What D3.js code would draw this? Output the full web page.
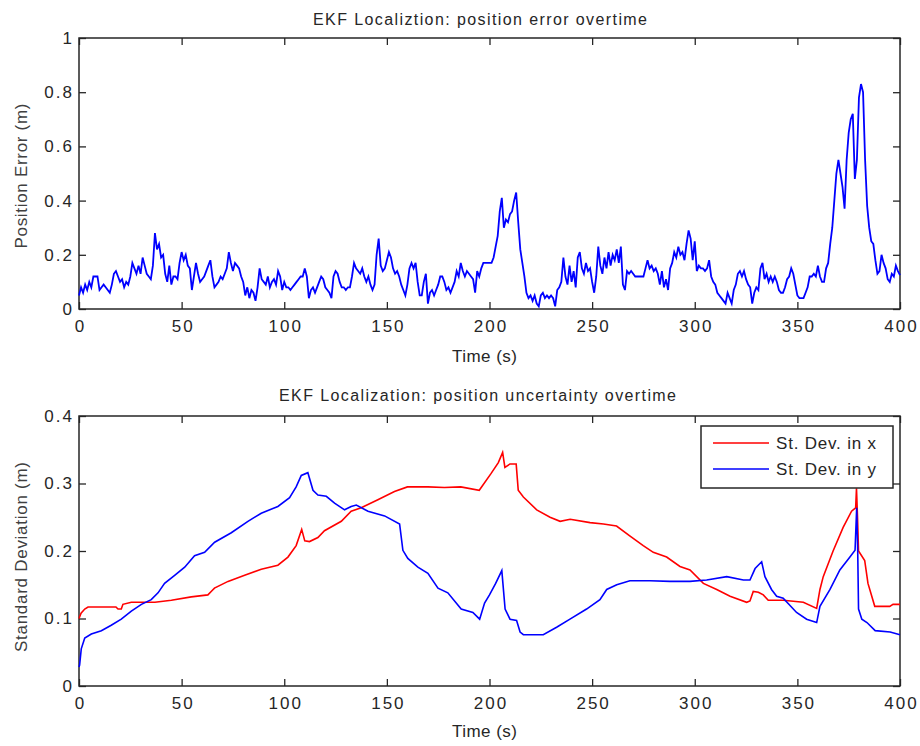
<!DOCTYPE html>
<html>
<head>
<meta charset="utf-8">
<script src="https://cdn.jsdelivr.net/npm/d3@7"></script>
<style>
  html, body { margin: 0; padding: 0; background: #fff; }
  svg { display: block; }
  text { font-family: "Liberation Sans", Arial, Helvetica, sans-serif; }
</style>
</head>
<body>
<svg id="chart" width="920" height="746"></svg>
<script>
// ---------------- DATA ----------------
// Top panel: position error (m), one sample per second, t = 0..400 s
const errValues = [
  0.05, 0.08, 0.06, 0.09, 0.07, 0.10, 0.08, 0.12, 0.12, 0.12,
  0.07, 0.08, 0.09, 0.08, 0.07, 0.06, 0.09, 0.13, 0.14, 0.12,
  0.10, 0.11, 0.08, 0.10, 0.09, 0.12, 0.17, 0.15, 0.13, 0.16,
  0.13, 0.19, 0.16, 0.13, 0.12, 0.11, 0.16, 0.28, 0.22, 0.24,
  0.19, 0.20, 0.13, 0.10, 0.16, 0.09, 0.12, 0.12, 0.11, 0.17,
  0.21, 0.18, 0.20, 0.16, 0.15, 0.07, 0.12, 0.17, 0.13, 0.10,
  0.11, 0.12, 0.14, 0.16, 0.18, 0.12, 0.08, 0.09, 0.10, 0.12,
  0.11, 0.13, 0.15, 0.21, 0.17, 0.14, 0.17, 0.16, 0.15, 0.12,
  0.10, 0.05, 0.08, 0.04, 0.07, 0.06, 0.03, 0.08, 0.15, 0.11,
  0.10, 0.09, 0.12, 0.08, 0.10, 0.11, 0.09, 0.14, 0.12, 0.07,
  0.10, 0.08, 0.08, 0.07, 0.08, 0.09, 0.10, 0.11, 0.12, 0.12,
  0.15, 0.12, 0.04, 0.07, 0.08, 0.06, 0.08, 0.10, 0.12, 0.11,
  0.08, 0.07, 0.06, 0.04, 0.12, 0.14, 0.13, 0.10, 0.08, 0.08,
  0.07, 0.08, 0.08, 0.12, 0.17, 0.15, 0.14, 0.13, 0.15, 0.12,
  0.10, 0.12, 0.09, 0.07, 0.09, 0.20, 0.26, 0.16, 0.14, 0.15,
  0.18, 0.21, 0.19, 0.15, 0.13, 0.14, 0.12, 0.09, 0.07, 0.05,
  0.09, 0.15, 0.17, 0.15, 0.17, 0.10, 0.05, 0.05, 0.10, 0.13,
  0.02, 0.06, 0.07, 0.05, 0.07, 0.09, 0.12, 0.12, 0.10, 0.07,
  0.08, 0.06, 0.08, 0.10, 0.14, 0.12, 0.17, 0.14, 0.12, 0.14,
  0.13, 0.12, 0.11, 0.06, 0.14, 0.12, 0.15, 0.17, 0.17, 0.17,
  0.17, 0.17, 0.19, 0.23, 0.27, 0.36, 0.41, 0.30, 0.33, 0.32,
  0.35, 0.36, 0.40, 0.43, 0.32, 0.22, 0.17, 0.12, 0.06, 0.04,
  0.05, 0.03, 0.05, 0.02, 0.01, 0.05, 0.06, 0.04, 0.05, 0.04,
  0.05, 0.04, 0.01, 0.07, 0.08, 0.10, 0.19, 0.12, 0.09, 0.16,
  0.10, 0.14, 0.08, 0.19, 0.21, 0.15, 0.13, 0.17, 0.14, 0.15,
  0.10, 0.06, 0.12, 0.23, 0.16, 0.13, 0.19, 0.15, 0.21, 0.16,
  0.20, 0.18, 0.22, 0.17, 0.23, 0.09, 0.07, 0.14, 0.13, 0.14,
  0.13, 0.12, 0.12, 0.12, 0.12, 0.12, 0.15, 0.18, 0.15, 0.16,
  0.14, 0.15, 0.13, 0.09, 0.14, 0.08, 0.11, 0.07, 0.15, 0.17,
  0.21, 0.19, 0.23, 0.20, 0.21, 0.18, 0.24, 0.29, 0.26, 0.18,
  0.25, 0.14, 0.16, 0.15, 0.15, 0.14, 0.15, 0.18, 0.12, 0.10,
  0.09, 0.06, 0.05, 0.04, 0.03, 0.02, 0.06, 0.04, 0.02, 0.07,
  0.09, 0.13, 0.14, 0.12, 0.14, 0.11, 0.09, 0.08, 0.02, 0.06,
  0.08, 0.07, 0.15, 0.17, 0.11, 0.13, 0.10, 0.12, 0.10, 0.12,
  0.10, 0.07, 0.06, 0.06, 0.08, 0.11, 0.12, 0.15, 0.13, 0.09,
  0.05, 0.04, 0.04, 0.04, 0.06, 0.08, 0.12, 0.12, 0.13, 0.12,
  0.16, 0.12, 0.10, 0.10, 0.15, 0.17, 0.24, 0.30, 0.40, 0.50,
  0.55, 0.50, 0.45, 0.37, 0.55, 0.65, 0.70, 0.72, 0.48, 0.55,
  0.78, 0.83, 0.80, 0.55, 0.38, 0.30, 0.25, 0.24, 0.18, 0.13,
  0.14, 0.20, 0.17, 0.15, 0.11, 0.10, 0.13, 0.12, 0.16, 0.14,
  0.125
];
const errTimeStep = 1; // seconds between samples

// Bottom panel: standard deviation in x (red)
const sdXTime = [0,1,2.8,4.4,18,19,20.6,21.4,25.5,37,45,54.7,62.8,64.4,66,72.6,80.7,88.8,96.9,101.8,105.8,108.5,110,112.3,116.4,119.6,127.8,132.6,137.5,145.6,153.7,160,170,178,186,195,200.8,204.3,206.4,207.5,210,213,214,216.5,223,229.5,234.4,239.3,249,255.5,261.9,268.5,274.9,279.8,286.3,292.8,297.7,304.2,310.7,317.2,325.3,326.9,328.5,331,333.4,335.8,343.1,352.9,359.4,361,362.6,367.4,372.3,376.4,378.4,378.8,379.3,379.8,382.8,384.4,387.7,395,396.6,400];
const sdXValue = [0.100,0.108,0.114,0.117,0.117,0.114,0.114,0.121,0.124,0.124,0.127,0.132,0.135,0.140,0.145,0.155,0.164,0.173,0.179,0.191,0.208,0.232,0.215,0.214,0.220,0.230,0.244,0.259,0.264,0.276,0.288,0.295,0.295,0.294,0.295,0.290,0.315,0.331,0.346,0.324,0.329,0.329,0.290,0.280,0.261,0.250,0.244,0.247,0.242,0.240,0.237,0.222,0.208,0.198,0.191,0.177,0.172,0.152,0.143,0.133,0.124,0.126,0.140,0.139,0.135,0.127,0.127,0.124,0.115,0.143,0.162,0.200,0.235,0.259,0.264,0.293,0.250,0.200,0.186,0.152,0.118,0.118,0.121,0.121];

// Bottom panel: standard deviation in y (blue)
const sdYTime = [0,0.3,1.1,2.8,6,10.9,15.7,20.6,25.5,30.4,35.2,38.5,41.7,46.6,51.5,56.3,61.2,66.1,74.2,82.3,88.8,96.9,102.6,105.8,108.3,111.5,114,116.4,120.5,124.5,129.4,132.6,135.1,140.8,148.9,156.2,157.8,160.2,165.1,170,174.9,179.7,186.2,191.9,195.2,197.6,200,203,206,207.6,210,213.2,214.9,216.5,226.2,232.7,239.2,247.3,253.8,257.1,262,268.4,278.2,287.9,297.7,305.8,315.6,323.7,326.9,329.4,332.6,334.2,337.4,339.9,343.1,349.6,354.5,359.4,361,365.9,370.7,375.6,378.1,378.9,379.4,379.8,381.4,383.9,387.9,395.2,400];
const sdYValue = [0.028,0.031,0.055,0.071,0.077,0.082,0.090,0.099,0.111,0.121,0.128,0.138,0.152,0.164,0.176,0.193,0.198,0.213,0.227,0.244,0.256,0.266,0.279,0.295,0.312,0.316,0.290,0.283,0.281,0.271,0.261,0.266,0.268,0.259,0.252,0.240,0.201,0.189,0.176,0.167,0.145,0.138,0.114,0.109,0.099,0.123,0.135,0.152,0.171,0.114,0.099,0.097,0.080,0.076,0.076,0.087,0.099,0.114,0.128,0.143,0.150,0.156,0.156,0.155,0.155,0.157,0.162,0.157,0.157,0.174,0.184,0.162,0.143,0.133,0.130,0.109,0.099,0.094,0.118,0.143,0.172,0.191,0.201,0.264,0.200,0.114,0.099,0.094,0.082,0.080,0.076];

const xTicks = [0, 50, 100, 150, 200, 250, 300, 350, 400];
const yTicksTop = [0, 0.2, 0.4, 0.6, 0.8, 1];
const yTicksBottom = [0, 0.1, 0.2, 0.3, 0.4];
const legendLabels = ["St. Dev. in x", "St. Dev. in y"];
const seriesColors = ["#ff0000", "#0000ff"];

// ---------------- DRAW ----------------
const svg = d3.select("#chart");
const TXT = "#262626";

const x = d3.scaleLinear().domain([0, 400]).range([79, 900]);
const yTop = d3.scaleLinear().domain([0, 1]).range([309, 38]);
const yBot = d3.scaleLinear().domain([0, 0.4]).range([686, 416]);

function fmtTick(d) { return d === 0 ? "0" : (d === 1 ? "1" : d3.format(".1f")(d)); }

function drawAxes(y, yTicks, opt) {
  const g = svg.append("g");
  const [x0, x1] = x.range();
  const [yb, yt] = y.range();
  // bottom axis with labels
  const ax = g.append("g").attr("transform", `translate(0,${yb})`)
    .call(d3.axisBottom(x).tickValues(xTicks).tickSizeInner(-7).tickSizeOuter(0).tickPadding(11).tickFormat(d3.format("d")));
  ax.select(".domain").remove();
  ax.selectAll("line").attr("stroke", "#262626").attr("stroke-width", 1.3);
  ax.selectAll("text").attr("font-size", 17).attr("fill", TXT).attr("letter-spacing", "2px").attr("dx", "1px");
  // top ticks
  const at = g.append("g").attr("transform", `translate(0,${yt})`)
    .call(d3.axisTop(x).tickValues(xTicks).tickSizeInner(-7).tickSizeOuter(0).tickFormat(""));
  at.select(".domain").remove();
  at.selectAll("line").attr("stroke", "#262626").attr("stroke-width", 1.3);
  // left axis
  const al = g.append("g").attr("transform", `translate(${x0},0)`)
    .call(d3.axisLeft(y).tickValues(yTicks).tickSizeInner(-7).tickSizeOuter(0).tickPadding(5).tickFormat(fmtTick));
  al.select(".domain").remove();
  al.selectAll("line").attr("stroke", "#262626").attr("stroke-width", 1.3);
  al.selectAll("text").attr("font-size", 17).attr("fill", TXT).attr("letter-spacing", "2px");
  // right ticks
  const ar = g.append("g").attr("transform", `translate(${x1},0)`)
    .call(d3.axisRight(y).tickValues(yTicks).tickSizeInner(-7).tickSizeOuter(0).tickFormat(""));
  ar.select(".domain").remove();
  ar.selectAll("line").attr("stroke", "#262626").attr("stroke-width", 1.3);
  // box
  g.append("rect").attr("x", x0).attr("y", yt).attr("width", x1 - x0).attr("height", yb - yt)
    .attr("fill", "none").attr("stroke", "#262626").attr("stroke-width", 1.5);
  // title
  g.append("text").attr("x", opt.titleX).attr("y", opt.titleY).attr("text-anchor", "middle")
    .attr("font-size", 16).attr("fill", TXT)
    .attr("textLength", opt.titleLen).attr("lengthAdjust", "spacing").text(opt.title);
  // x label
  g.append("text").attr("x", 484.5).attr("y", opt.xLabY).attr("text-anchor", "middle")
    .attr("font-size", 17).attr("fill", TXT)
    .attr("textLength", 65).attr("lengthAdjust", "spacing").text("Time (s)");
  // y label
  g.append("text").attr("transform", `translate(27,${opt.yLabC}) rotate(-90)`).attr("text-anchor", "middle")
    .attr("font-size", 17).attr("fill", "#404040")
    .attr("textLength", opt.yLabLen).attr("lengthAdjust", "spacing").text(opt.yLab);
}

drawAxes(yTop, yTicksTop, {
  title: "EKF Localiztion: position error overtime", titleX: 480, titleY: 25, titleLen: 334,
  xLabY: 362, yLab: "Position Error (m)", yLabC: 176, yLabLen: 145
});
drawAxes(yBot, yTicksBottom, {
  title: "EKF Localization: position uncertainty overtime", titleX: 477.5, titleY: 401, titleLen: 397,
  xLabY: 737, yLab: "Standard Deviation (m)", yLabC: 557, yLabLen: 190
});

// top line
const errLine = d3.line().x((d, i) => x(i * errTimeStep)).y(d => yTop(d));
svg.append("path").datum(errValues).attr("d", errLine)
  .attr("fill", "none").attr("stroke", "#0000ff").attr("stroke-width", 1.8).attr("stroke-linejoin", "miter");

// bottom lines
const sdLine = d3.line().x(d => x(d[0])).y(d => yBot(d[1]));
const sdX = sdXTime.map((t, i) => [t, sdXValue[i]]);
const sdY = sdYTime.map((t, i) => [t, sdYValue[i]]);
svg.append("path").datum(sdX).attr("d", sdLine)
  .attr("fill", "none").attr("stroke", seriesColors[0]).attr("stroke-width", 1.6);
svg.append("path").datum(sdY).attr("d", sdLine)
  .attr("fill", "none").attr("stroke", seriesColors[1]).attr("stroke-width", 1.6);

// legend
const lg = svg.append("g");
lg.append("rect").attr("x", 701).attr("y", 426).attr("width", 192).attr("height", 62)
  .attr("fill", "#fff").attr("stroke", "#262626").attr("stroke-width", 1.5);
legendLabels.forEach((lab, i) => {
  const yy = 443 + i * 26;
  lg.append("line").attr("x1", 713).attr("x2", 769).attr("y1", yy).attr("y2", yy)
    .attr("stroke", seriesColors[i]).attr("stroke-width", 1.6);
  lg.append("text").attr("x", 776).attr("y", yy + 6).attr("font-size", 17).attr("fill", TXT)
    .attr("textLength", 100).attr("lengthAdjust", "spacing").text(lab);
});
</script>
</body>
</html>
